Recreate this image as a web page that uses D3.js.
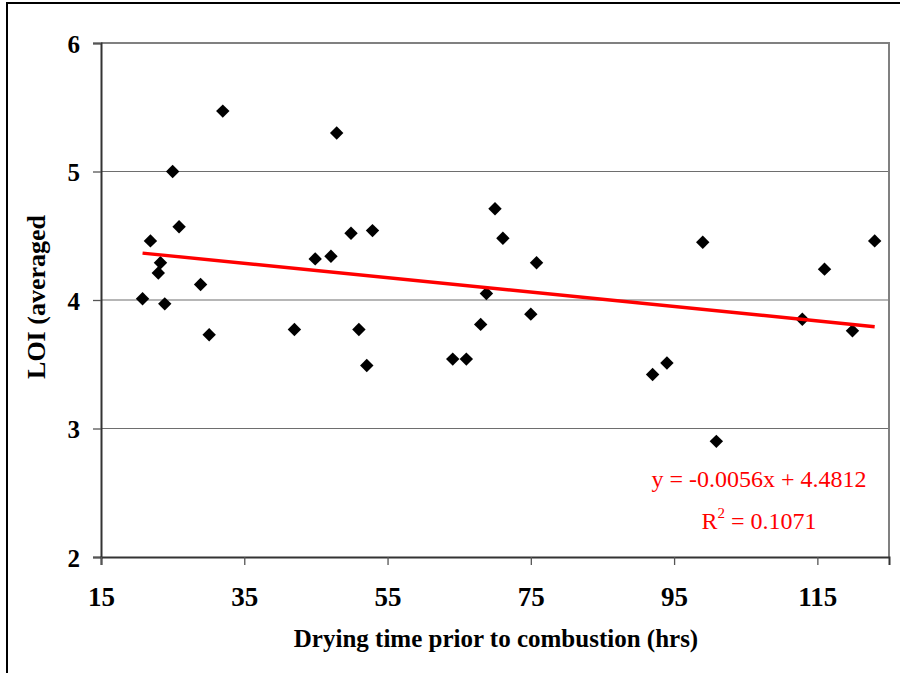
<!DOCTYPE html>
<html>
<head>
<meta charset="utf-8">
<script src="https://cdn.jsdelivr.net/npm/d3@7"></script>
<style>
  html, body { margin: 0; padding: 0; background: #fff; }
  svg { display: block; }
</style>
</head>
<body>
<svg id="chart" width="900" height="673"></svg>
<script>
// Drying time (hrs) and averaged LOI for each sample
const dryingHours = [20.8, 21.9, 23.0, 23.3, 23.9, 25.0, 25.9, 28.9, 30.1, 32.0,
                     42.0, 44.9, 47.1, 47.9, 49.9, 51.0, 52.1, 52.9, 64.1, 66.0,
                     68.0, 68.8, 70.0, 71.1, 75.0, 75.8, 92.0, 94.0, 99.0, 100.9,
                     112.9, 116.0, 119.9, 123.0];
const loiAveraged = [4.01, 4.46, 4.21, 4.29, 3.97, 5.00, 4.57, 4.12, 3.73, 5.47,
                     3.77, 4.32, 4.34, 5.30, 4.52, 3.77, 3.49, 4.54, 3.54, 3.54,
                     3.81, 4.05, 4.71, 4.48, 3.89, 4.29, 3.42, 3.51, 4.45, 2.90,
                     3.85, 4.24, 3.76, 4.46];

const xTicks = [15, 35, 55, 75, 95, 115];
const yTicks = [2, 3, 4, 5, 6];

// Linear trend line reported on the chart
const trendSlope = -0.0056;
const trendIntercept = 4.4812;
const trendR2 = 0.1071;

const xTitle = "Drying time prior to combustion (hrs)";
const yTitle = "LOI (averaged";

const svg = d3.select("#chart");
const serif = "'Liberation Serif', 'Times New Roman', serif";

const plot = { left: 101, top: 43, right: 889, bottom: 557 };
const x = d3.scaleLinear().domain([15, 125]).range([plot.left, plot.right]);
const y = d3.scaleLinear().domain([2, 6]).range([plot.bottom, plot.top]);

// outer frame
svg.append("rect")
  .attr("x", 7).attr("y", 3).attr("width", 1000).attr("height", 1000)
  .attr("fill", "none").attr("stroke", "#000").attr("stroke-width", 2);

// horizontal gridlines
svg.append("g")
  .selectAll("line")
  .data(yTicks.filter(t => t > 2 && t < 6))
  .join("line")
  .attr("x1", plot.left).attr("x2", plot.right)
  .attr("y1", d => y(d)).attr("y2", d => y(d))
  .attr("stroke", "#6e6e6e").attr("stroke-width", 1.2);

// plot area border (top and right in grey)
svg.append("path")
  .attr("d", `M${plot.left},${y(6)}H${plot.right}V${plot.bottom}`)
  .attr("fill", "none").attr("stroke", "#808080").attr("stroke-width", 2);

// y axis
const yAxis = svg.append("g")
  .attr("transform", `translate(${plot.left},0)`)
  .call(d3.axisLeft(y).tickValues(yTicks).tickSize(8).tickPadding(13).tickFormat(d3.format("d")));
yAxis.select(".domain").attr("stroke", "#333").attr("stroke-width", 2);
yAxis.selectAll(".tick line").attr("stroke", "#555").attr("stroke-width", 1.3);
yAxis.selectAll(".tick text")
  .attr("font-family", serif).attr("font-weight", "bold").attr("font-size", 25)
  .attr("fill", "#000").attr("dy", "0.36em");

// x axis
const xAxis = svg.append("g")
  .attr("transform", `translate(0,${plot.bottom})`)
  .call(d3.axisBottom(x).tickValues(xTicks).tickSize(8).tickPadding(0).tickFormat(d3.format("d")));
xAxis.select(".domain").attr("stroke", "#333").attr("stroke-width", 2);
xAxis.selectAll(".tick line").attr("stroke", "#555").attr("stroke-width", 1.3);
xAxis.selectAll(".tick text")
  .attr("font-family", serif).attr("font-weight", "bold").attr("font-size", 27)
  .attr("fill", "#000").attr("dy", 0).attr("y", 49);

// data points as diamonds
const diamond = d3.symbol().type(d3.symbolSquare).size(90);
svg.append("g")
  .selectAll("path")
  .data(dryingHours.map((h, i) => ({ h, v: loiAveraged[i] })))
  .join("path")
  .attr("d", diamond)
  .attr("transform", d => `translate(${x(d.h)},${y(d.v)}) rotate(45)`)
  .attr("fill", "#000");

// trend line across the data range
const xMin = d3.min(dryingHours), xMax = d3.max(dryingHours);
svg.append("line")
  .attr("x1", x(xMin)).attr("y1", y(trendSlope * xMin + trendIntercept))
  .attr("x2", x(xMax)).attr("y2", y(trendSlope * xMax + trendIntercept))
  .attr("stroke", "#ff0000").attr("stroke-width", 3.5);

// trend equation
const eq = svg.append("g")
  .attr("font-family", serif).attr("font-size", 24).attr("fill", "#ff0000")
  .attr("text-anchor", "middle");
eq.append("text")
  .attr("x", 759).attr("y", 487)
  .text(`y = ${trendSlope.toFixed(4)}x + ${trendIntercept.toFixed(4)}`);
const r2 = eq.append("text").attr("x", 759).attr("y", 529);
r2.append("tspan").text("R");
r2.append("tspan").attr("font-size", 15).attr("dy", -11).text("2");
r2.append("tspan").attr("dy", 11).text(` = ${trendR2.toFixed(4)}`);

// axis titles
svg.append("text")
  .attr("x", 496).attr("y", 647)
  .attr("text-anchor", "middle")
  .attr("font-family", serif).attr("font-weight", "bold").attr("font-size", 25)
  .attr("fill", "#000")
  .text(xTitle);

svg.append("text")
  .attr("transform", "translate(45,297) rotate(-90)")
  .attr("text-anchor", "middle")
  .attr("font-family", serif).attr("font-weight", "bold").attr("font-size", 26)
  .attr("fill", "#000")
  .text(yTitle);
</script>
</body>
</html>
